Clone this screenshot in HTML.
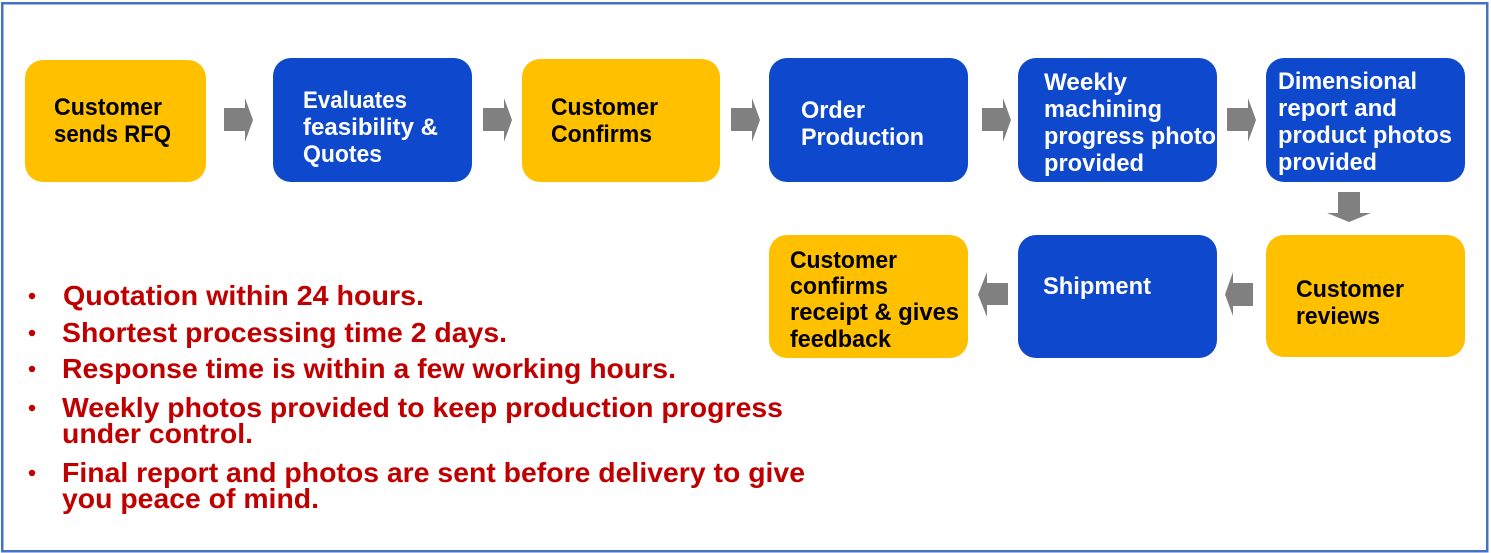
<!DOCTYPE html>
<html>
<head>
<meta charset="utf-8">
<style>
  html,body{margin:0;padding:0;background:#fff;}
  svg{display:block;}
  .bt{font-family:"Liberation Sans",Arial,sans-serif;font-weight:bold;font-size:24px;}
  .w{fill:#fff;}
  .k{fill:#000;}
  .r{font-family:"Liberation Sans",Arial,sans-serif;font-weight:bold;font-size:28px;fill:#C00000;}
</style>
</head>
<body>
<svg width="1491" height="553" viewBox="0 0 1491 553" xmlns="http://www.w3.org/2000/svg">
  <rect x="0" y="0" width="1491" height="553" fill="#fff"/>
  <rect x="2.25" y="3.25" width="1485" height="548" fill="none" stroke="#4472C4" stroke-width="2.5"/>

  <!-- Row 1 boxes -->
  <rect x="25" y="60" width="181" height="122" rx="18" fill="#FFC000"/>
  <rect x="273" y="58" width="199" height="124" rx="18" fill="#0E48CD"/>
  <rect x="522" y="59" width="198" height="123" rx="18" fill="#FFC000"/>
  <rect x="769" y="58" width="199" height="124" rx="18" fill="#0E48CD"/>
  <rect x="1018" y="58" width="199" height="124" rx="18" fill="#0E48CD"/>
  <rect x="1266" y="58" width="199" height="124" rx="18" fill="#0E48CD"/>

  <!-- Row 2 boxes -->
  <rect x="769" y="235" width="199" height="123" rx="18" fill="#FFC000"/>
  <rect x="1018" y="235" width="199" height="123" rx="18" fill="#0E48CD"/>
  <rect x="1266" y="235" width="199" height="122" rx="18" fill="#FFC000"/>

  <!-- Arrows -->
  <g fill="#808080">
    <rect x="224" y="108" width="21" height="23"/><polygon points="245,98 253,120 245,142"/>
    <rect x="483" y="108" width="21" height="23"/><polygon points="504,98 512,120 504,142"/>
    <rect x="731" y="108" width="21" height="23"/><polygon points="752,98 760,120 752,142"/>
    <rect x="982" y="108" width="21" height="23"/><polygon points="1003,98 1011,120 1003,142"/>
    <rect x="1227" y="108" width="21" height="23"/><polygon points="1248,98 1256,120 1248,142"/>
    <rect x="1338" y="192" width="22" height="21"/><polygon points="1327,213 1371,213 1349,222"/>
    <rect x="1233" y="283" width="20" height="23"/><polygon points="1233,272 1225,294.5 1233,316"/>
    <rect x="987" y="283" width="21" height="22"/><polygon points="987,272 978,294.5 987,317"/>
  </g>

  <!-- Box texts -->
  <text class="bt k" x="54" y="115" textLength="108" lengthAdjust="spacingAndGlyphs">Customer</text>
  <text class="bt k" x="54" y="142" textLength="117" lengthAdjust="spacingAndGlyphs">sends RFQ</text>

  <text class="bt w" x="303" y="108" textLength="104" lengthAdjust="spacingAndGlyphs">Evaluates</text>
  <text class="bt w" x="303" y="135" textLength="135" lengthAdjust="spacingAndGlyphs">feasibility &amp;</text>
  <text class="bt w" x="303" y="162" textLength="79" lengthAdjust="spacingAndGlyphs">Quotes</text>

  <text class="bt k" x="551" y="115" textLength="107" lengthAdjust="spacingAndGlyphs">Customer</text>
  <text class="bt k" x="551" y="142" textLength="101" lengthAdjust="spacingAndGlyphs">Confirms</text>

  <text class="bt w" x="801" y="118" textLength="64" lengthAdjust="spacingAndGlyphs">Order</text>
  <text class="bt w" x="801" y="145" textLength="123" lengthAdjust="spacingAndGlyphs">Production</text>

  <text class="bt w" x="1044" y="90" textLength="83" lengthAdjust="spacingAndGlyphs">Weekly</text>
  <text class="bt w" x="1044" y="117" textLength="118" lengthAdjust="spacingAndGlyphs">machining</text>
  <text class="bt w" x="1044" y="144" textLength="172" lengthAdjust="spacingAndGlyphs">progress photo</text>
  <text class="bt w" x="1044" y="171" textLength="100" lengthAdjust="spacingAndGlyphs">provided</text>

  <text class="bt w" x="1278" y="89" textLength="139" lengthAdjust="spacingAndGlyphs">Dimensional</text>
  <text class="bt w" x="1278" y="116" textLength="119" lengthAdjust="spacingAndGlyphs">report and</text>
  <text class="bt w" x="1278" y="143" textLength="174" lengthAdjust="spacingAndGlyphs">product photos</text>
  <text class="bt w" x="1278" y="170" textLength="99" lengthAdjust="spacingAndGlyphs">provided</text>

  <text class="bt k" x="1296" y="297" textLength="108" lengthAdjust="spacingAndGlyphs">Customer</text>
  <text class="bt k" x="1296" y="324" textLength="84" lengthAdjust="spacingAndGlyphs">reviews</text>

  <text class="bt w" x="1043" y="294" textLength="108" lengthAdjust="spacingAndGlyphs">Shipment</text>

  <text class="bt k" x="790" y="268" textLength="107" lengthAdjust="spacingAndGlyphs">Customer</text>
  <text class="bt k" x="790" y="294" textLength="98" lengthAdjust="spacingAndGlyphs">confirms</text>
  <text class="bt k" x="790" y="320" textLength="169" lengthAdjust="spacingAndGlyphs">receipt &amp; gives</text>
  <text class="bt k" x="790" y="347" textLength="101" lengthAdjust="spacingAndGlyphs">feedback</text>

  <!-- Bullets -->
  <g fill="#C00000">
    <circle cx="32" cy="296" r="3.2"/>
    <circle cx="32" cy="333" r="3.2"/>
    <circle cx="32" cy="369" r="3.2"/>
    <circle cx="32" cy="408" r="3.2"/>
    <circle cx="32" cy="473" r="3.2"/>
  </g>
  <text class="r" x="63" y="305" textLength="361" lengthAdjust="spacingAndGlyphs">Quotation within 24 hours.</text>
  <text class="r" x="62" y="342" textLength="445" lengthAdjust="spacingAndGlyphs">Shortest processing time 2 days.</text>
  <text class="r" x="62" y="378" textLength="614" lengthAdjust="spacingAndGlyphs">Response time is within a few working hours.</text>
  <text class="r" x="62" y="417" textLength="721" lengthAdjust="spacingAndGlyphs">Weekly photos provided to keep production progress</text>
  <text class="r" x="62" y="443" textLength="191" lengthAdjust="spacingAndGlyphs">under control.</text>
  <text class="r" x="62" y="482" textLength="743" lengthAdjust="spacingAndGlyphs">Final report and photos are sent before delivery to give</text>
  <text class="r" x="62" y="508" textLength="257" lengthAdjust="spacingAndGlyphs">you peace of mind.</text>
</svg>
</body>
</html>
